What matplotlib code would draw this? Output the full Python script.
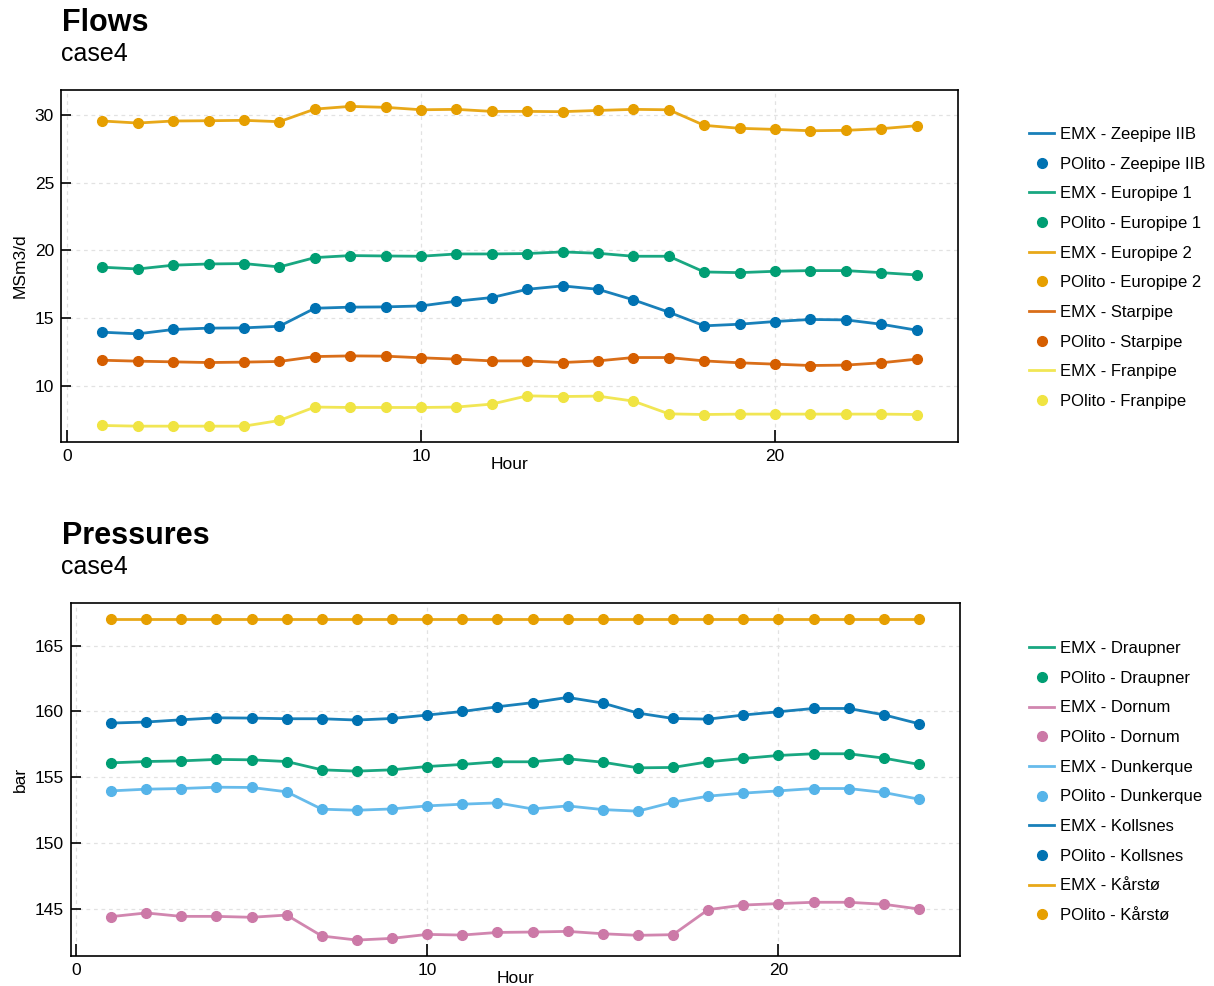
import matplotlib
matplotlib.use("Agg")
import matplotlib.pyplot as plt
import numpy as np

plt.rcParams['font.family'] = ['Liberation Sans', 'DejaVu Sans']

hours = list(range(1, 25))

# flows, MSm3/d
flow_names = ["Zeepipe IIB", "Europipe 1", "Europipe 2", "Starpipe", "Franpipe"]
zeepipe = [13.96, 13.84, 14.16, 14.26, 14.28, 14.40, 15.73, 15.81, 15.83, 15.90, 16.25, 16.52,
           17.13, 17.38, 17.13, 16.35, 15.44, 14.43, 14.55, 14.75, 14.90, 14.87, 14.55, 14.11]
europipe1 = [18.76, 18.63, 18.91, 19.00, 19.03, 18.78, 19.47, 19.62, 19.59, 19.57, 19.74, 19.74,
             19.77, 19.89, 19.79, 19.57, 19.57, 18.41, 18.36, 18.46, 18.51, 18.51, 18.36, 18.19]
europipe2 = [29.56, 29.41, 29.56, 29.58, 29.61, 29.51, 30.44, 30.64, 30.57, 30.39, 30.42, 30.27,
             30.27, 30.25, 30.34, 30.42, 30.39, 29.24, 29.02, 28.94, 28.84, 28.87, 28.99, 29.21]
starpipe = [11.89, 11.82, 11.77, 11.72, 11.75, 11.80, 12.16, 12.21, 12.19, 12.07, 11.97, 11.84,
            11.84, 11.72, 11.84, 12.09, 12.09, 11.84, 11.70, 11.60, 11.50, 11.53, 11.70, 11.97]
franpipe = [7.07, 7.02, 7.02, 7.02, 7.02, 7.44, 8.43, 8.40, 8.40, 8.40, 8.43, 8.65,
            9.26, 9.21, 9.24, 8.87, 7.93, 7.88, 7.91, 7.91, 7.91, 7.91, 7.91, 7.88]
flow_values = [zeepipe, europipe1, europipe2, starpipe, franpipe]

# pressures, bar
pres_names = ["Draupner", "Dornum", "Dunkerque", "Kollsnes", "Kårstø"]
draupner = [156.10, 156.20, 156.25, 156.36, 156.33, 156.20, 155.57, 155.47, 155.57, 155.82, 155.98, 156.18,
            156.18, 156.41, 156.15, 155.72, 155.75, 156.18, 156.43, 156.66, 156.79, 156.79, 156.46, 155.98]
dornum = [144.42, 144.70, 144.44, 144.44, 144.37, 144.54, 142.95, 142.64, 142.77, 143.07, 143.02, 143.22,
          143.25, 143.30, 143.12, 143.00, 143.05, 144.95, 145.30, 145.41, 145.51, 145.51, 145.36, 145.00]
dunkerque = [153.97, 154.10, 154.15, 154.25, 154.23, 153.90, 152.58, 152.50, 152.60, 152.83, 152.96, 153.06,
             152.60, 152.83, 152.55, 152.43, 153.11, 153.57, 153.80, 153.97, 154.15, 154.15, 153.85, 153.34]
kollsnes = [159.12, 159.20, 159.37, 159.52, 159.50, 159.45, 159.45, 159.35, 159.47, 159.73, 160.00, 160.36,
            160.67, 161.07, 160.64, 159.88, 159.47, 159.42, 159.73, 159.98, 160.23, 160.23, 159.75, 159.07]
karsto = [167.0] * 24
pres_values = [draupner, dornum, dunkerque, kollsnes, karsto]

flow_colors = ["#0072B2", "#009E73", "#E69F00", "#D55E00", "#F0E442"]
pres_colors = ["#009E73", "#CC79A7", "#56B4E9", "#0072B2", "#E69F00"]

W, H = 1214, 986
fig = plt.figure(figsize=(W / 100, H / 100), dpi=100)


def setup(ax, ylabel, yticks):
    ax.set_xticks([0, 10, 20])
    ax.set_yticks(yticks)
    ax.grid(True, linestyle=(0, (3, 3)), color="#e2e2e2", linewidth=0.9)
    ax.set_axisbelow(True)
    ax.tick_params(axis="x", direction="in", length=9, width=1.2, labelsize=12.5, pad=5,
                   top=False)
    ax.tick_params(axis="y", direction="in", length=7, width=1.2, labelsize=12.5, pad=5,
                   right=False)
    for s in ax.spines.values():
        s.set_linewidth(1.2)
    ax.set_xlabel("Hour", fontsize=12.5, labelpad=-5)
    ax.set_ylabel(ylabel, fontsize=12.5, labelpad=5)


def draw(ax, names, values, colors):
    for name, v, c in zip(names, values, colors):
        ax.plot(hours, v, color=c, lw=2.0, alpha=0.9, label="EMX - " + name)
        ax.plot(hours, v, "o", color=c, ms=7, ls="none", label="POlito - " + name)


ax1 = fig.add_axes([61 / W, 1 - 442 / H, 897 / W, 352 / H])
draw(ax1, flow_names, flow_values, flow_colors)
ax1.set_xlim(-0.17, 25.17)
ax1.set_ylim(5.85, 31.85)
setup(ax1, "MSm3/d", [10, 15, 20, 25, 30])

ax2 = fig.add_axes([71 / W, 1 - 956 / H, 889 / W, 353 / H])
draw(ax2, pres_names, pres_values, pres_colors)
ax2.set_xlim(-0.14, 25.17)
ax2.set_ylim(141.43, 168.24)
setup(ax2, "bar", [145, 150, 155, 160, 165])

for ax, yc in [(ax1, 268), (ax2, 782)]:
    ax.legend(loc="center left", bbox_to_anchor=(1021 / W, 1 - yc / H),
              bbox_transform=fig.transFigure, frameon=False, fontsize=12,
              handlelength=1.5, handletextpad=0.35, labelspacing=0.88, borderpad=0)

fig.text(62 / W, 1 - 31 / H, "Flows", fontsize=22, fontweight="bold", va="baseline")
fig.text(61 / W, 1 - 61 / H, "case4", fontsize=18, va="baseline")
fig.text(62 / W, 1 - 544 / H, "Pressures", fontsize=22, fontweight="bold", va="baseline")
fig.text(61 / W, 1 - 574 / H, "case4", fontsize=18, va="baseline")

fig.savefig("out.png", dpi=100)
